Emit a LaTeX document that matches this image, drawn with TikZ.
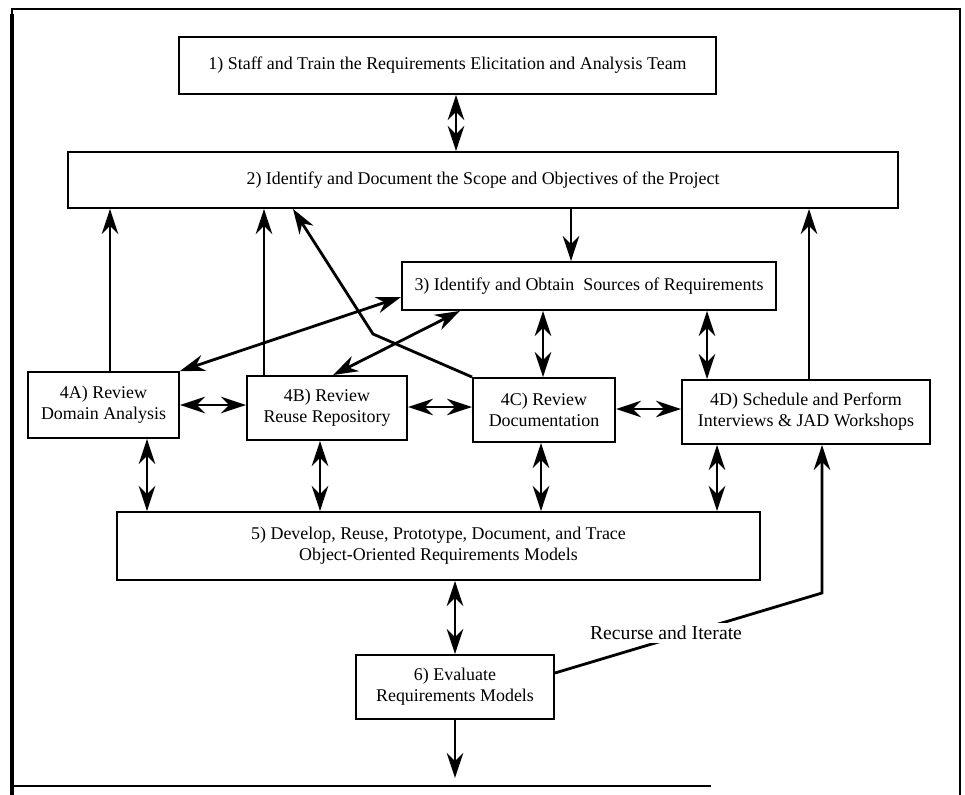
\documentclass[tikz,border=0pt]{standalone}
\usepackage{fontspec}
\setmainfont{Liberation Serif}
\usetikzlibrary{arrows.meta}

\begin{document}
\begin{tikzpicture}[x=0.2mm,y=0.2mm]
\tikzstyle{every node}+=[inner sep=0pt,font=\fontsize{10.2}{12}\selectfont]
\tikzstyle{box}=[draw=black,line width=1.1pt,align=center]
\tikzstyle{link}=[black,line width=0.9pt,-{Stealth[length=5mm,width=3.3mm,inset=1.6mm]}]
\tikzstyle{dbl}=[link,{Stealth[length=5mm,width=3.3mm,inset=1.6mm]}-{Stealth[length=5mm,width=3.3mm,inset=1.6mm]}]
\tikzstyle{heavy}=[line width=1.6pt]
\useasboundingbox (0,0) rectangle (965,-795);
\draw [black,line width=1.2pt] (711,-786) -- (12,-786) -- (12,-9) -- (960,-9) -- (960,-795);
\draw [black,line width=2.4pt] (12,-14) -- (12,-795);
\node [box,minimum width=537*0.2mm,minimum height=57*0.2mm] (s1) at (447.5,-65.5) {1) Staff and Train the Requirements Elicitation and Analysis Team};
\node [box,minimum width=830*0.2mm,minimum height=56*0.2mm] (s2) at (483,-180) {2) Identify and Document the Scope and Objectives of the Project};
\node [box,minimum width=374*0.2mm,minimum height=48*0.2mm] (s3) at (589,-286) {3) Identify and Obtain\ \ Sources of Requirements};
\node [box,minimum width=151*0.2mm,minimum height=66*0.2mm] (s4a) at (103.5,-405) {4A) Review\\Domain Analysis};
\node [box,minimum width=160*0.2mm,minimum height=64*0.2mm] (s4b) at (327,-408) {4B) Review\\Reuse Repository};
\node [box,minimum width=142*0.2mm,minimum height=64*0.2mm] (s4c) at (544,-410) {4C) Review\\Documentation};
\node [box,minimum width=248*0.2mm,minimum height=64*0.2mm] (s4d) at (806,-412) {4D) Schedule and Perform\\Interviews \& JAD Workshops};
\node [box,minimum width=643*0.2mm,minimum height=68*0.2mm] (s5) at (438.5,-546) {5) Develop, Reuse, Prototype, Document, and Trace\\Object-Oriented Requirements Models};
\node [box,minimum width=198*0.2mm,minimum height=64*0.2mm] (s6) at (455,-687) {6) Evaluate\\Requirements Models};
\coordinate (bend) at (373,-334);
\coordinate (turn) at (822,-593);
\coordinate (out) at (455,-778);
\draw [dbl] (s1.south -| 456,0) -- (s2.north -| 456,0);
\draw [link] (s2.south -| 571,0) -- (s3.north -| 571,0);
\draw [link] (s4a.north -| 110,0) -- (s2.south -| 110,0);
\draw [link] (s4b.north -| 264,0) -- (s2.south -| 264,0);
\draw [link,heavy] (s4c.north west) -- (bend) -- (s2.south -| 293,0);
\draw [link] (s4d.north -| 809,0) -- (s2.south -| 809,0);
\draw [dbl,heavy] (s4a.north east) -- (s3.west |- 0,-297);
\draw [dbl,heavy] (s4b.north -| 333,0) -- (s3.south -| 460,0);
\draw [dbl] (s3.south -| 543,0) -- (s4c.north -| 543,0);
\draw [dbl] (s3.south -| 707,0) -- (s4d.north -| 707,0);
\draw [dbl,heavy] (s4a.east |- 0,-405) -- (s4b.west |- 0,-405);
\draw [dbl,heavy] (s4b.east |- 0,-407) -- (s4c.west |- 0,-407);
\draw [dbl,heavy] (s4c.east |- 0,-409) -- (s4d.west |- 0,-409);
\draw [dbl] (s4a.south -| 147,0) -- (s5.north -| 147,0);
\draw [dbl] (s4b.south -| 320,0) -- (s5.north -| 320,0);
\draw [dbl] (s4c.south -| 541,0) -- (s5.north -| 541,0);
\draw [dbl] (s4d.south -| 717,0) -- (s5.north -| 717,0);
\draw [dbl] (s5.south -| 455,0) -- (s6.north -| 455,0);
\draw [link] (s6.south) -- (out);
\draw [link,heavy] (s6.east |- 0,-673) -- (turn) -- (s4d.south -| 822,0);
\node [fill=white,inner sep=2pt,font=\fontsize{11.2}{13}\selectfont] (rec) at (666,-633) {Recurse and Iterate};
\end{tikzpicture}
\end{document}
